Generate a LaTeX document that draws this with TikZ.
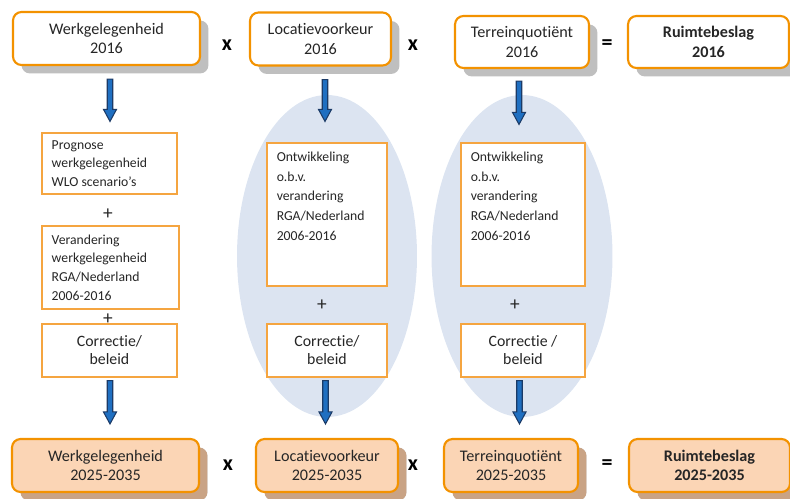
\documentclass[tikz,border=0pt]{standalone}
\usepackage{fontspec}
\setmainfont{Carlito}[Ligatures=NoCommon]
\usetikzlibrary{calc,shadows,shapes.geometric}
\definecolor{orng}{HTML}{F39200}
\definecolor{orngl}{HTML}{F5A540}
\definecolor{peach}{HTML}{FBD5B5}
\definecolor{shgray}{HTML}{BFBFBF}
\definecolor{shbrown}{HTML}{C9A385}
\definecolor{ellfill}{HTML}{DCE4F1}
\definecolor{arrfill}{HTML}{1F6FC1}
\definecolor{arrline}{HTML}{1B3A66}
\definecolor{txt}{HTML}{262626}
\tikzset{
  topbox/.style={draw=orng, line width=1.2pt, rounded corners=0.17cm, fill=white,
    minimum height=1.06cm, align=center, text=txt, font=\fontsize{9.2}{11}\selectfont,
    drop shadow={shadow xshift=0.17cm, shadow yshift=-0.17cm, fill=shgray, opacity=1}},
  botbox/.style={topbox, fill=peach,
    drop shadow={shadow xshift=0.17cm, shadow yshift=-0.17cm, fill=shbrown, opacity=1}},
  midbox/.style={draw=orngl, line width=0.7pt, fill=white, inner sep=0pt},
  smalltxt/.style={text=txt, font=\fontsize{7.8}{10.6}\selectfont, align=left, inner sep=0pt},
  corrtxt/.style={text=txt, font=\fontsize{9}{10.3}\selectfont, align=center},
  sign/.style={text=black, font=\bfseries\fontsize{12.5}{14}\selectfont},
  plus/.style={text=txt, font=\fontsize{11}{12}\selectfont},
  ell/.style={fill=ellfill, draw=none},
  arrowshape/.style={fill=arrfill, draw=arrline, line width=0.6pt, line join=miter}
}
\newcommand\blarrow[2]{\path let \p1=(#1), \p2=(#2) in [arrowshape]
  (\x1-0.055cm,\y1) -- (\x1+0.055cm,\y1) -- (\x1+0.055cm,\y2+0.24cm) -- (\x1+0.13cm,\y2+0.24cm)
  -- (\x1,\y2) -- (\x1-0.13cm,\y2+0.24cm) -- (\x1-0.055cm,\y2+0.24cm) -- cycle;}
\begin{document}
\begin{tikzpicture}[x=0.02cm,y=-0.02cm]
\useasboundingbox (0,0) rectangle (790,498);
% ellipses
\node[ell, ellipse, minimum width=3.6cm, minimum height=6.44cm, inner sep=0pt] (e2) at (327,256) {};
\node[ell, ellipse, minimum width=3.62cm, minimum height=6.44cm, inner sep=0pt] (e3) at (522,256) {};
% top row
\node[topbox, minimum width=3.74cm] (w16) at (106.5,38.5) {Werkgelegenheid\\2016};
\node[topbox, minimum width=2.82cm] (l16) at (320.5,39) {Locatievoorkeur\\2016};
\node[topbox, minimum width=2.68cm, minimum height=1.04cm] (t16) at (522,42) {Terreinquotiënt\\2016};
\node[topbox, minimum width=3.22cm, minimum height=1.04cm, font=\bfseries\fontsize{9.2}{11}\selectfont] (r16) at (708.5,42) {Ruimtebeslag\\2016};
\node[sign] (x1) at (227,45) {x};
\node[sign] (x2) at (413,45) {x};
\node[sign] (q1) at (607,45) {=};
% bottom row
\node[botbox, minimum width=3.74cm] (w25) at (105.5,465.5) {Werkgelegenheid\\2025-2035};
\node[botbox, minimum width=2.84cm] (l25) at (327,465.5) {Locatievoorkeur\\2025-2035};
\node[botbox, minimum width=2.68cm] (t25) at (511,465.5) {Terreinquotiënt\\2025-2035};
\node[botbox, minimum width=3.22cm, font=\bfseries\fontsize{9.2}{11}\selectfont] (r25) at (709.5,465.5) {Ruimtebeslag\\2025-2035};
\node[sign] (x3) at (228,465) {x};
\node[sign] (x4) at (413,465) {x};
\node[sign] (q2) at (607,465) {=};
% column 1
\node[midbox, minimum width=2.7cm, minimum height=1.22cm] (p1) at (109.5,163.5) {};
\node[smalltxt, anchor=west] (p1t) at ($(p1.west)+(0.2cm,0)$) {Prognose\\werkgelegenheid\\WLO scenario’s};
\node[plus] (pl1) at (108,214) {+};
\node[midbox, minimum width=2.74cm, minimum height=1.66cm] (p2) at (110.5,267.5) {};
\node[smalltxt, anchor=west] (p2t) at ($(p2.west)+(0.2cm,0)$) {Verandering\\werkgelegenheid\\RGA/Nederland\\2006-2016};
\node[plus] (pl2) at (108,319) {+};
\node[midbox, minimum width=2.7cm, minimum height=1.06cm, corrtxt] (c1) at (109.5,350.5) {Correctie/\\beleid};
% column 2
\node[midbox, minimum width=2.4cm, minimum height=2.86cm] (o2) at (327,214.5) {};
\node[smalltxt, anchor=north west, font=\fontsize{7.8}{11.3}\selectfont] (o2t) at ($(o2.north west)+(0.2cm,-0.18cm)$) {Ontwikkeling\\o.b.v.\\verandering\\RGA/Nederland\\2006-2016};
\node[plus] (pl3) at (322,305) {+};
\node[midbox, minimum width=2.4cm, minimum height=1.06cm, corrtxt] (c2) at (327,350.5) {Correctie/\\beleid};
% column 3
\node[midbox, minimum width=2.48cm, minimum height=2.86cm] (o3) at (523,214.5) {};
\node[smalltxt, anchor=north west, font=\fontsize{7.8}{11.3}\selectfont] (o3t) at ($(o3.north west)+(0.2cm,-0.18cm)$) {Ontwikkeling\\o.b.v.\\verandering\\RGA/Nederland\\2006-2016};
\node[plus] (pl4) at (515,305) {+};
\node[midbox, minimum width=2.48cm, minimum height=1.06cm, corrtxt] (c3) at (523,350.5) {Correctie /\\beleid};
% arrow end points
\coordinate (a1s) at ($(w16.south)+(0.07cm,-0.26cm)$);
\coordinate (a1e) at ($(p1.north)+(0,0.22cm)$);
\coordinate (a2s) at ($(l16.south)+(0.09cm,-0.26cm)$);
\coordinate (a2e) at ($(o2.north)+(-0.04cm,0.42cm)$);
\coordinate (a3s) at ($(t16.south)+(-0.06cm,-0.24cm)$);
\coordinate (a3e) at ($(o3.north)+(-0.08cm,0.36cm)$);
\coordinate (b1s) at ($(c1.south)+(0.01cm,-0.06cm)$);
\coordinate (b1e) at ($(w25.north)+(0.05cm,0.28cm)$);
\coordinate (b2s) at ($(c2.south)+(-0.03cm,-0.06cm)$);
\coordinate (b2e) at ($(l25.north)+(-0.03cm,0.28cm)$);
\coordinate (b3s) at ($(c3.south)+(-0.07cm,-0.06cm)$);
\coordinate (b3e) at ($(t25.north)+(0,0.28cm)$);
\blarrow{a1s}{a1e}
\blarrow{a2s}{a2e}
\blarrow{a3s}{a3e}
\blarrow{b1s}{b1e}
\blarrow{b2s}{b2e}
\blarrow{b3s}{b3e}
\end{tikzpicture}
\end{document}
